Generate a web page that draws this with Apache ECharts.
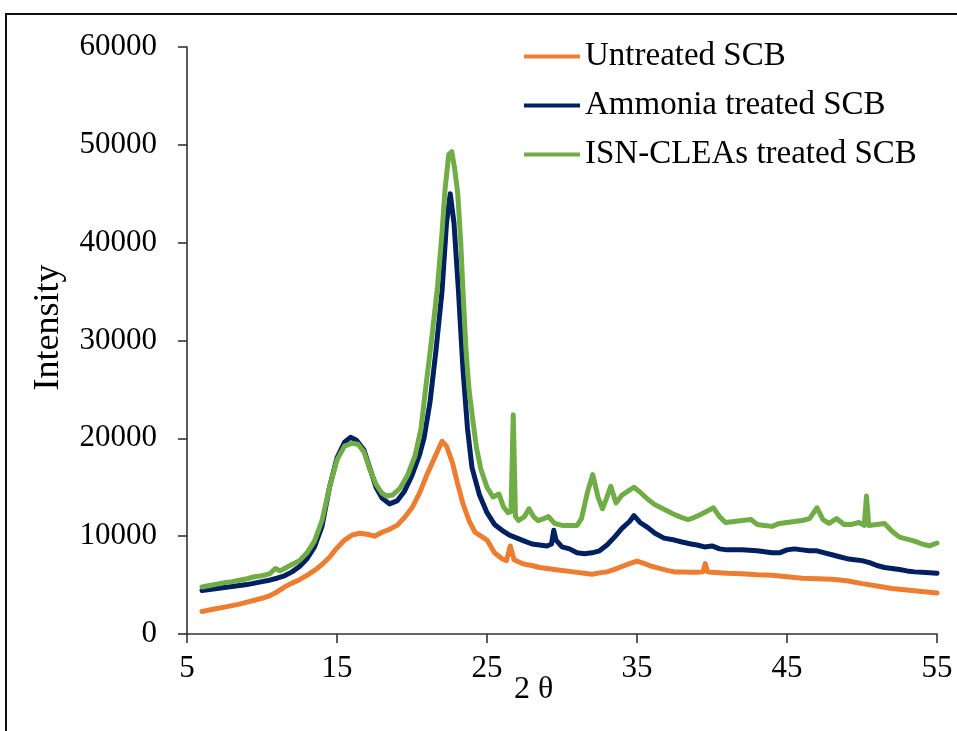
<!DOCTYPE html>
<html>
<head>
<meta charset="utf-8">
<title>XRD patterns of SCB</title>
<script src="https://cdn.jsdelivr.net/npm/echarts@6/dist/echarts.min.js"></script>
<style>
  html, body { margin: 0; padding: 0; background: #fff; }
  #chart { width: 957px; height: 731px; }
</style>
</head>
<body>
<div id="chart"></div>
<script>
// Diffraction angle (2θ, degrees) and intensity for each sample
const untreatedTheta = [6, 6.5, 7, 7.5, 8, 8.5, 9, 9.5, 10, 10.5, 11, 11.5, 12, 12.5, 13, 13.5, 14, 14.5, 15, 15.5, 16, 16.5, 17, 17.5, 18, 18.5, 19, 19.5, 20, 20.5, 21, 21.5, 22, 22.3, 22.7, 23, 23.4, 23.8, 24.2, 24.6, 25, 25.5, 26, 26.3, 26.55, 26.8, 27.2, 27.6, 28, 28.5, 29, 29.5, 30, 30.5, 31, 31.5, 32, 32.5, 33, 33.5, 34, 34.5, 35, 35.5, 36, 36.5, 37, 37.5, 38, 38.5, 39, 39.4, 39.55, 39.7, 40, 41, 42, 43, 44, 45, 46, 47, 48, 49, 50, 51, 52, 53, 54, 55];
const untreatedIntensity = [2300, 2450, 2600, 2750, 2900, 3050, 3250, 3450, 3650, 3900, 4300, 4800, 5200, 5550, 6000, 6500, 7100, 7850, 8800, 9600, 10100, 10300, 10200, 10000, 10400, 10700, 11100, 11900, 12900, 14400, 16300, 18000, 19700, 19200, 17500, 15600, 13300, 11600, 10400, 10000, 9600, 8300, 7700, 7500, 9000, 7600, 7300, 7100, 7000, 6800, 6700, 6600, 6500, 6400, 6300, 6200, 6100, 6250, 6350, 6600, 6900, 7200, 7450, 7200, 6900, 6700, 6500, 6350, 6350, 6300, 6300, 6350, 7200, 6350, 6300, 6200, 6150, 6050, 6000, 5850, 5700, 5650, 5600, 5450, 5150, 4900, 4650, 4500, 4350, 4200];

const ammoniaTheta = [6, 6.5, 7, 7.5, 8, 8.5, 9, 9.5, 10, 10.5, 11, 11.5, 12, 12.5, 13, 13.5, 14, 14.5, 15, 15.5, 15.9, 16.3, 16.8, 17.2, 17.6, 18, 18.5, 19, 19.5, 20, 20.5, 20.8, 21.2, 21.6, 22, 22.3, 22.55, 22.8, 23.1, 23.4, 23.7, 24, 24.5, 25, 25.5, 26, 26.5, 27, 27.5, 28, 28.5, 29, 29.3, 29.45, 29.6, 30, 30.5, 31, 31.5, 32, 32.5, 33, 33.5, 34, 34.5, 34.8, 35.2, 35.7, 36.2, 36.8, 37.5, 38, 38.6, 39, 39.5, 40, 40.5, 41, 42, 43, 44, 44.5, 45, 45.5, 46, 46.5, 47, 47.5, 48, 48.5, 49, 49.5, 50, 50.5, 51, 51.5, 52, 52.5, 53, 53.5, 54, 54.5, 55];
const ammoniaIntensity = [4450, 4550, 4650, 4750, 4850, 4950, 5050, 5200, 5350, 5500, 5700, 5950, 6350, 6900, 7700, 8900, 11000, 15000, 18000, 19600, 20100, 19800, 18800, 16900, 15000, 13900, 13300, 13600, 14600, 16200, 18300, 20000, 23700, 29000, 35000, 42000, 45000, 42000, 35000, 27000, 21000, 17000, 14200, 12400, 11200, 10600, 10100, 9800, 9500, 9200, 9100, 9000, 9200, 10600, 9600, 8900, 8700, 8300, 8200, 8300, 8500, 9100, 9900, 10800, 11500, 12100, 11400, 10900, 10300, 9800, 9600, 9400, 9200, 9100, 8900, 9000, 8700, 8600, 8600, 8500, 8300, 8300, 8600, 8700, 8600, 8500, 8500, 8300, 8100, 7900, 7700, 7600, 7500, 7300, 7000, 6800, 6700, 6600, 6450, 6350, 6300, 6250, 6200];

const isnCleaTheta = [6, 6.5, 7, 7.5, 8, 8.5, 9, 9.5, 10, 10.5, 10.9, 11.2, 11.5, 12, 12.5, 13, 13.5, 14, 14.5, 15, 15.5, 16, 16.4, 16.8, 17.2, 17.6, 18, 18.3, 18.7, 19.2, 19.7, 20.2, 20.6, 20.9, 21.3, 21.7, 22, 22.2, 22.45, 22.65, 22.85, 23.05, 23.25, 23.4, 23.6, 23.8, 24, 24.3, 24.6, 25, 25.4, 25.8, 26.1, 26.4, 26.6, 26.75, 26.9, 27.1, 27.5, 27.8, 28.1, 28.4, 28.8, 29.1, 29.5, 30, 30.5, 31, 31.3, 31.7, 32.05, 32.4, 32.7, 33, 33.25, 33.6, 34, 34.4, 34.8, 35.2, 35.7, 36.2, 36.6, 37, 37.5, 38, 38.4, 38.8, 39.2, 39.6, 40.1, 40.5, 40.9, 41.5, 42, 42.6, 43, 43.5, 44, 44.5, 45, 45.5, 46, 46.5, 47, 47.4, 47.8, 48.3, 48.8, 49.3, 49.8, 50.15, 50.3, 50.45, 51, 51.5, 52, 52.5, 53, 53.5, 54, 54.5, 55];
const isnCleaIntensity = [4800, 4950, 5100, 5250, 5350, 5500, 5650, 5850, 5950, 6150, 6700, 6450, 6700, 7100, 7500, 8300, 9500, 11600, 15000, 17800, 19200, 19500, 19400, 18600, 16800, 15300, 14400, 14100, 14200, 14900, 16200, 18200, 21000, 25000, 30000, 35500, 41000, 45400, 49000, 49300, 47500, 45000, 40000, 35000, 29000, 25000, 22500, 19000, 16800, 15000, 14000, 14300, 13000, 12400, 12500, 22400, 12000, 11600, 12000, 12800, 12000, 11600, 11800, 12000, 11300, 11100, 11100, 11100, 11800, 14500, 16300, 14000, 12800, 14000, 15100, 13400, 14200, 14600, 15000, 14500, 13800, 13200, 12900, 12600, 12200, 11900, 11700, 11900, 12200, 12500, 12900, 12000, 11400, 11500, 11600, 11700, 11200, 11100, 11000, 11300, 11400, 11500, 11600, 11800, 12900, 11700, 11300, 11800, 11200, 11200, 11400, 11100, 14100, 11100, 11200, 11300, 10500, 9900, 9700, 9500, 9200, 9000, 9300];

// Axis tick values
const thetaTicks = [5, 15, 25, 35, 45, 55];
const intensityTicks = [0, 10000, 20000, 30000, 40000, 50000, 60000];

const seriesNames = ['Untreated SCB', 'Ammonia treated SCB', 'ISN-CLEAs treated SCB'];
const seriesColors = ['#ED7D31', '#002060', '#70AD47'];

function pairs(xs, ys) {
  return xs.map((x, i) => [x, ys[i]]);
}

const serif = '"Liberation Serif", "Times New Roman", serif';

const chart = echarts.init(document.getElementById('chart'), null, { renderer: 'canvas' });

const datasets = [
  pairs(untreatedTheta, untreatedIntensity),
  pairs(ammoniaTheta, ammoniaIntensity),
  pairs(isnCleaTheta, isnCleaIntensity)
];

chart.setOption({
  animation: false,
  backgroundColor: '#ffffff',
  grid: {
    left: 187,
    right: 20,
    top: 47,
    bottom: 97,
    containLabel: false
  },
  legend: {
    orient: 'vertical',
    left: 519,
    top: 35,
    icon: 'rect',
    itemWidth: 56,
    itemHeight: 4,
    itemGap: 16,
    data: seriesNames,
    textStyle: {
      fontFamily: serif,
      fontSize: 33,
      color: '#000'
    }
  },
  xAxis: {
    type: 'value',
    min: thetaTicks[0],
    max: thetaTicks[thetaTicks.length - 1],
    interval: thetaTicks[1] - thetaTicks[0],
    axisLine: { lineStyle: { color: '#333', width: 1.6 } },
    axisTick: { show: true, inside: false, length: 9, lineStyle: { color: '#333', width: 1.6 } },
    axisLabel: {
      margin: 19,
      fontFamily: serif,
      fontSize: 31,
      color: '#000',
      formatter: (v) => String(v)
    },
    splitLine: { show: false }
  },
  yAxis: {
    type: 'value',
    min: intensityTicks[0],
    max: intensityTicks[intensityTicks.length - 1],
    interval: intensityTicks[1] - intensityTicks[0],
    name: 'Intensity',
    nameLocation: 'middle',
    nameGap: 120,
    nameRotate: 90,
    nameTextStyle: {
      fontFamily: serif,
      fontSize: 36,
      color: '#000',
      padding: [0, 0, 0, 26]
    },
    axisLine: { show: true, lineStyle: { color: '#333', width: 1.6 } },
    axisTick: { show: true, inside: false, length: 9, lineStyle: { color: '#333', width: 1.6 } },
    axisLabel: {
      margin: 30,
      fontFamily: serif,
      fontSize: 31,
      color: '#000',
      formatter: (v) => String(v)
    },
    splitLine: { show: false }
  },
  graphic: [
    {
      type: 'rect',
      silent: true,
      shape: { x: 6, y: 14, width: 1200, height: 1200 },
      style: { fill: 'none', stroke: '#111', lineWidth: 2 }
    },
    {
      // x-axis title, sitting just right of the "25" tick label
      type: 'text',
      silent: true,
      left: 514,
      top: 674,
      style: {
        text: '2 θ',
        font: '32px "Liberation Serif", "Times New Roman", serif',
        fill: '#000'
      }
    }
  ],
  series: datasets.map((d, i) => ({
    name: seriesNames[i],
    type: 'line',
    data: d,
    showSymbol: false,
    symbol: 'none',
    smooth: false,
    color: seriesColors[i],
    lineStyle: { color: seriesColors[i], width: 5, cap: 'round', join: 'round' },
    itemStyle: { color: seriesColors[i] },
    z: 2 + i
  }))
});
</script>
</body>
</html>
